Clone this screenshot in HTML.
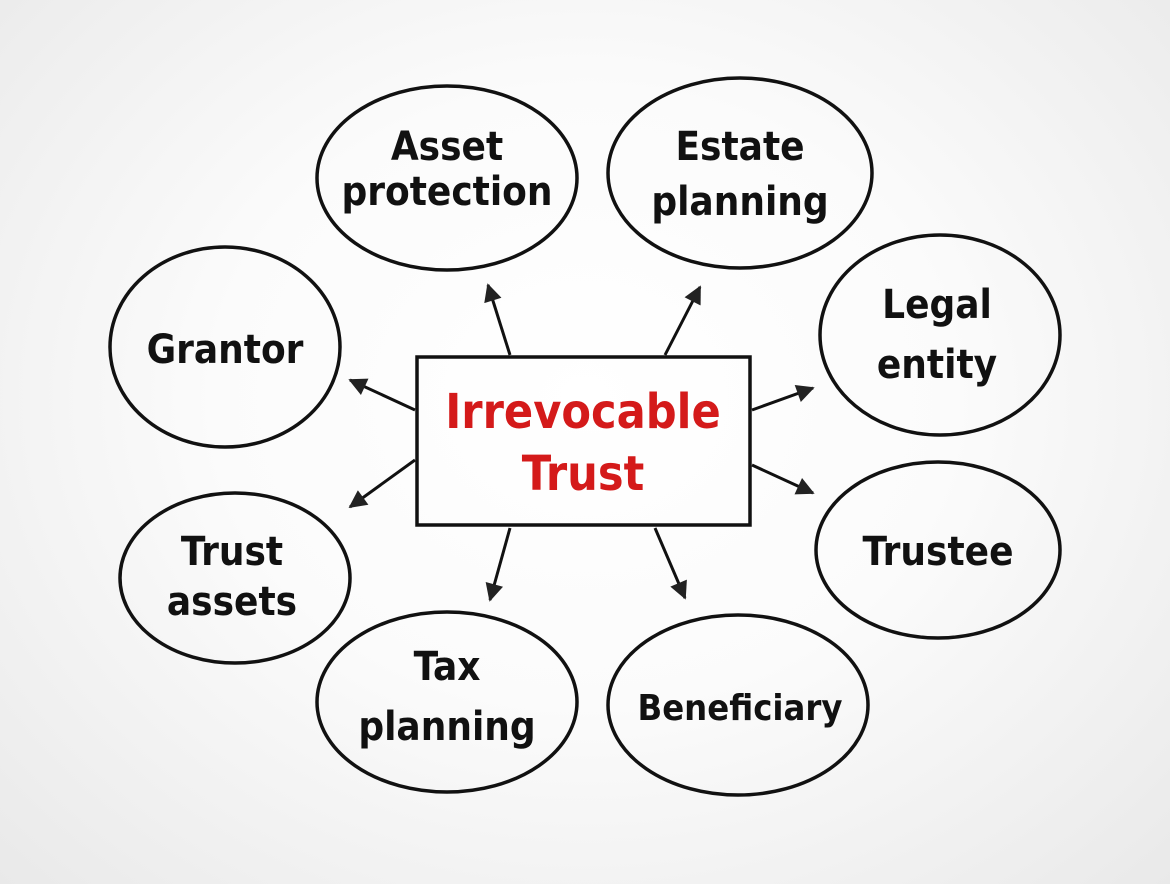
<!DOCTYPE html>
<html><head><meta charset="utf-8"><style>
html,body{margin:0;padding:0;width:1170px;height:884px;overflow:hidden}
body{background:radial-gradient(ellipse at 50% 45%,#ffffff 0%,#fbfbfb 45%,#e9e9e9 100%)}
text{font-family:"DejaVu Sans Condensed","DejaVu Sans","Liberation Sans",sans-serif;font-weight:bold;fill:#111;text-anchor:middle}
</style></head><body>
<svg width="1170" height="884" viewBox="0 0 1170 884">
<defs>
<marker id="a" viewBox="0 0 10 10" refX="9" refY="5" markerWidth="7" markerHeight="6" orient="auto" markerUnits="strokeWidth">
<path d="M0,0 L10,5 L0,10 Z" fill="#222"/></marker>
</defs>
<g fill="none" stroke="#111" stroke-width="3.5">
<ellipse cx="447" cy="178" rx="130" ry="92"/>
<ellipse cx="740" cy="173" rx="132" ry="95"/>
<ellipse cx="940" cy="335" rx="120" ry="100"/>
<ellipse cx="938" cy="550" rx="122" ry="88"/>
<ellipse cx="738" cy="705" rx="130" ry="90"/>
<ellipse cx="447" cy="702" rx="130" ry="90"/>
<ellipse cx="235" cy="578" rx="115" ry="85"/>
<ellipse cx="225" cy="347" rx="115" ry="100"/>
<rect x="417" y="357" width="333" height="168"/>
</g>
<g stroke="#111" stroke-width="3" marker-end="url(#a)">
<line x1="510" y1="355" x2="488" y2="285"/>
<line x1="665" y1="355" x2="700" y2="287"/>
<line x1="752" y1="410" x2="813" y2="388"/>
<line x1="752" y1="465" x2="813" y2="493"/>
<line x1="655" y1="528" x2="685" y2="598"/>
<line x1="510" y1="528" x2="490" y2="600"/>
<line x1="415" y1="460" x2="350" y2="507"/>
<line x1="415" y1="410" x2="350" y2="380"/>
</g>
<text x="583" y="428" font-size="48" style="fill:#d41a1a">Irrevocable</text>
<text x="583" y="490" font-size="48" style="fill:#d41a1a">Trust</text>
<g font-size="40">
<text x="447" y="160">Asset</text><text x="447" y="205">protection</text>
<text x="740" y="160">Estate</text><text x="740" y="215">planning</text>
<text x="937" y="318">Legal</text><text x="937" y="378">entity</text>
<text x="938" y="565">Trustee</text>
<text x="740" y="720" font-size="36">Beneficiary</text>
<text x="447" y="680">Tax</text><text x="447" y="740">planning</text>
<text x="232" y="565">Trust</text><text x="232" y="615">assets</text>
<text x="225" y="363">Grantor</text>
</g>
</svg>
</body></html>
